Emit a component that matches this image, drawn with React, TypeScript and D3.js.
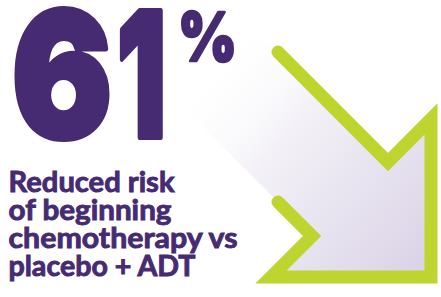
import React from "react";
import { scaleLinear, line } from "d3";

// headline figure
const statValue = [61];
const statUnit = ["%"];

// caption, one entry per line
const captionLines = [
  "Reduced risk",
  "of beginning",
  "chemotherapy vs",
  "placebo + ADT",
];
const captionWidths = [166, 163, 229, 187];

// per-glyph boxes for the big figure (left edge, width)
const digitLeft = [12, 117];
const digitWidth = [100, 49];

// arrow outline in its own units (shaft start -> head -> shaft end)
const arrowX = [7, 117, 160, 160, 0, 41, 7];
const arrowY = [0, 110, 67, 225, 225, 184, 150];
const shaftBack = 120;

const PURPLE = "#462b72";
const GREEN = "#bfd52f";
const W = 441;
const H = 297;

const App = () => {
  const x = scaleLinear().domain([0, 160]).range([271, 431]);
  const y = scaleLinear().domain([0, 225]).range([52, 277]);

  const pts: [number, number][] = arrowX.map((d, i) => [d, arrowY[i]]);
  const outline = line<[number, number]>()
    .x(d => x(d[0]))
    .y(d => y(d[1]));

  // fill = band between the two shafts carried back up-left, plus the head
  const last = pts[pts.length - 1];
  const first = pts[0];
  const fillPts: [number, number][] = [
    [last[0] - shaftBack, last[1] - shaftBack],
    [first[0] - shaftBack, first[1] - shaftBack],
    ...pts,
  ];
  const fillPath = outline(fillPts) + "Z";

  const lineY = scaleLinear().domain([0, 3]).range([192, 276]);
  const digits = String(statValue[0]).split("");

  return (
    <svg
      width={W}
      height={H}
      style={{ position: "absolute", left: 0, top: 0, background: "#fff" }}
    >
      <defs>
        <linearGradient
          id="fade"
          gradientUnits="userSpaceOnUse"
          x1={195}
          y1={75}
          x2={431}
          y2={277}
        >
          <stop offset="0" stopColor="#ffffff" stopOpacity={0} />
          <stop offset="0.35" stopColor="#f3f1f7" stopOpacity={1} />
          <stop offset="1" stopColor="#d9d1e6" />
        </linearGradient>
      </defs>

      <path d={fillPath} fill="url(#fade)" />
      <path
        d={outline(pts) ?? ""}
        fill="none"
        stroke={GREEN}
        strokeWidth={13}
        strokeLinecap="round"
        strokeLinejoin="miter"
        strokeMiterlimit={6}
      />

      <g
        fill={PURPLE}
        stroke={PURPLE}
        strokeLinejoin="round"
        fontFamily="Inter, 'Noto Sans', sans-serif"
        fontWeight={900}
      >
        {digits.map((d, i) => (
          <text
            key={i}
            x={digitLeft[i]}
            y={137}
            fontSize={173}
            strokeWidth={6}
            textLength={digitWidth[i]}
            lengthAdjust="spacingAndGlyphs"
          >
            {d}
          </text>
        ))}
        <text
          x={178}
          y={61}
          fontSize={68}
          strokeWidth={2.5}
          textLength={59}
          lengthAdjust="spacingAndGlyphs"
        >
          {statUnit[0]}
        </text>
      </g>

      <g
        fill={PURPLE}
        stroke={PURPLE}
        strokeWidth={0.9}
        fontFamily="Lato, 'Noto Sans', sans-serif"
        fontWeight={700}
        fontSize={28}
      >
        {captionLines.map((t, i) => (
          <text
            key={t}
            x={8.5}
            y={lineY(i)}
            textLength={captionWidths[i]}
            lengthAdjust="spacingAndGlyphs"
          >
            {t}
          </text>
        ))}
      </g>
    </svg>
  );
};

export default App;
